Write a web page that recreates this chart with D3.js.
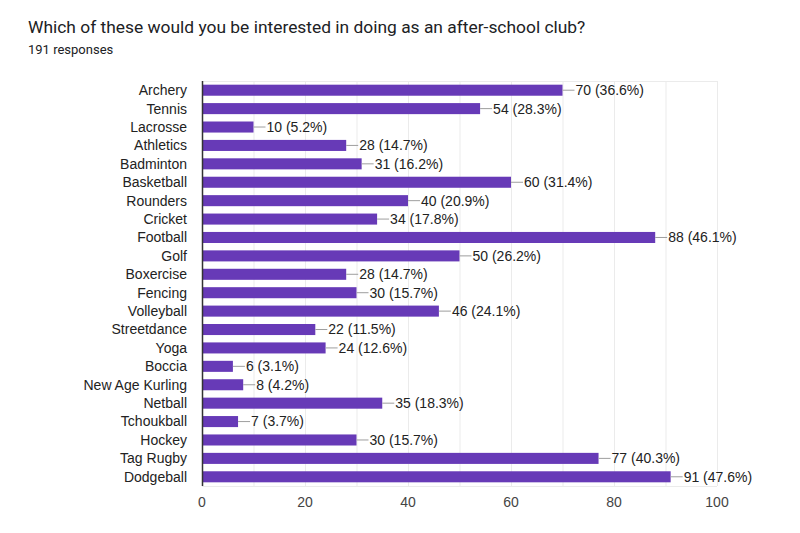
<!DOCTYPE html>
<html><head><meta charset="utf-8">
<script src="https://cdn.jsdelivr.net/npm/d3@7"></script>
<style>body{margin:0;background:#fff;font-family:Roboto,Arial,sans-serif}</style>
</head><body>
<svg id="c" width="800" height="533"></svg>
<script>
const categories = ["Archery","Tennis","Lacrosse","Athletics","Badminton","Basketball","Rounders","Cricket","Football","Golf","Boxercise","Fencing","Volleyball","Streetdance","Yoga","Boccia","New Age Kurling","Netball","Tchoukball","Hockey","Tag Rugby","Dodgeball"];
const counts = [70,54,10,28,31,60,40,34,88,50,28,30,46,22,24,6,8,35,7,30,77,91];
const percents = ["36.6%","28.3%","5.2%","14.7%","16.2%","31.4%","20.9%","17.8%","46.1%","26.2%","14.7%","15.7%","24.1%","11.5%","12.6%","3.1%","4.2%","18.3%","3.7%","15.7%","40.3%","47.6%"];
const tickValues = [0,20,40,60,80,100];
const gridValues = [10,20,30,40,50,60,70,80,90,100];

const svg = d3.select("#c");
svg.append("text").attr("x",28).attr("y",33).attr("font-size",17.4).attr("fill","#202124")
  .attr("font-family","Roboto")
  .text("Which of these would you be interested in doing as an after-school club?");
svg.append("text").attr("x",28).attr("y",54).attr("font-size",13).attr("fill","#202124")
  .attr("font-family","Roboto")
  .text("191 responses");

const F = "'Liberation Sans',Arial,sans-serif";
const x = d3.scaleLinear().domain([0,100]).range([202,717]);
const y = d3.scaleBand().domain(categories).range([81,486]).paddingInner(0.4).paddingOuter(0.2);

const g = svg.append("g").attr("font-family",F);
g.selectAll(".grid").data(gridValues).join("line")
  .attr("x1",d=>x(d)+0.5).attr("x2",d=>x(d)+0.5).attr("y1",81).attr("y2",486)
  .attr("stroke","#ebebeb").attr("stroke-width",1);
g.append("line").attr("x1",x(0)).attr("x2",x(100)).attr("y1",81.5).attr("y2",81.5).attr("stroke","#ebebeb");
g.append("line").attr("x1",x(0)).attr("x2",x(100)).attr("y1",486.5).attr("y2",486.5).attr("stroke","#ebebeb");

const data = categories.map((c,i)=>({c,v:counts[i],p:percents[i]}));
g.selectAll(".bar").data(data).join("rect")
  .attr("x",x(0)).attr("y",d=>y(d.c)).attr("width",d=>x(d.v)-x(0)).attr("height",y.bandwidth())
  .attr("fill","#673ab7");
g.selectAll(".lead").data(data).join("line")
  .attr("x1",d=>x(d.v)).attr("x2",d=>x(d.v)+12)
  .attr("y1",d=>y(d.c)+y.bandwidth()/2).attr("y2",d=>y(d.c)+y.bandwidth()/2)
  .attr("stroke","#9e9e9e").attr("stroke-width",1);
g.selectAll(".lbl").data(data).join("text")
  .attr("x",d=>x(d.v)+13).attr("y",d=>y(d.c)+y.bandwidth()/2).attr("dy","0.35em")
  .attr("font-size",14).attr("fill","#222").text(d=>`${d.v} (${d.p})`);

g.selectAll(".cat").data(categories).join("text")
  .attr("x",187).attr("y",d=>y(d)+y.bandwidth()/2).attr("dy","0.35em")
  .attr("text-anchor","end").attr("font-size",14).attr("fill","#222").text(d=>d);

g.append("line").attr("x1",x(0)+0.5).attr("x2",x(0)+0.5).attr("y1",81).attr("y2",486)
  .attr("stroke","#333").attr("stroke-width",1.5);

g.selectAll(".tick").data(tickValues).join("text")
  .attr("x",d=>x(d)).attr("y",502).attr("dy","0.35em").attr("text-anchor","middle")
  .attr("font-size",14).attr("fill","#444").text(d=>d);
</script>
</body></html>
